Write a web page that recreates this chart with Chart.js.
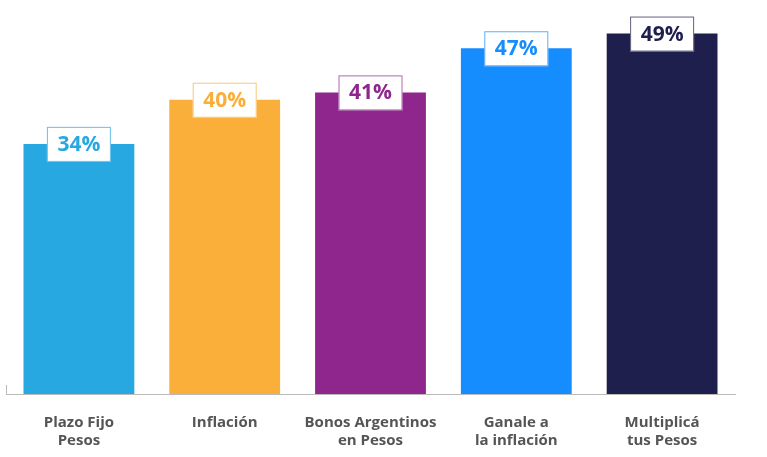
<!DOCTYPE html>
<html><head><meta charset="utf-8">
<script src="https://cdn.jsdelivr.net/npm/chart.js@4/dist/chart.umd.min.js"></script>
<style>html,body{margin:0;padding:0;background:#fff}#w{width:767px;height:457px}</style>
</head><body><div id="w"><canvas id="c"></canvas></div>
<script>
const categories = [["Plazo Fijo","Pesos"],["Inflación"],["Bonos Argentinos","en Pesos"],["Ganale a","la inflación"],["Multiplicá","tus Pesos"]];
const values = [34, 40, 41, 47, 49];
const colors = ["#27A8E0","#FBAF3B","#8E268D","#168DFE","#1F1F4E"];

const labelPlugin = {
  id: 'lbl',
  afterDatasetsDraw(chart) {
    const ctx = chart.ctx;
    const meta = chart.getDatasetMeta(0);
    ctx.save();
    ctx.font = 'bold 21px "Open Sans"';
    ctx.textAlign = 'center'; ctx.textBaseline = 'middle';
    meta.data.forEach((b, i) => {
      const w = 64, h = 35;
      ctx.fillStyle = '#fff';
      ctx.fillRect(b.x - w/2, b.y - 17, w, h);
      ctx.strokeStyle = colors[i]; ctx.lineWidth = 1;
      ctx.globalAlpha = 0.7;
      ctx.strokeRect(b.x - w/2 + 0.5, b.y - 17 + 0.5, w - 1, h - 1);
      ctx.globalAlpha = 1;
      ctx.fillStyle = colors[i];
      ctx.fillText(values[i] + '%', b.x, b.y + 1);
    });
    const a = chart.chartArea;
    ctx.strokeStyle = '#bbb'; ctx.lineWidth = 1;
    ctx.beginPath(); ctx.moveTo(a.left + 0.5, a.bottom - 9); ctx.lineTo(a.left + 0.5, a.bottom); ctx.stroke();
    ctx.restore();
  }
};

new Chart(document.getElementById('c'), {
  type: 'bar',
  data: { labels: categories, datasets: [{ data: values, backgroundColor: colors, categoryPercentage: 1, barPercentage: 0.76 }] },
  options: {
    responsive: true, maintainAspectRatio: false, animation: false,
    layout: { padding: { top: 10, left: 6, right: 32, bottom: 0 } },
    plugins: { legend: { display: false }, tooltip: { enabled: false } },
    scales: {
      y: { display: false, min: 0, max: 52.2 },
      x: {
        grid: { display: false },
        border: { display: true, color: '#bbb', width: 1 },
        ticks: { color: '#555', font: { family: '"Open Sans"', weight: 'bold', size: 15 }, padding: 12, maxRotation: 0 },
        afterFit(s) { s.height = 63; }
      }
    }
  },
  plugins: [labelPlugin]
});
</script></body></html>
